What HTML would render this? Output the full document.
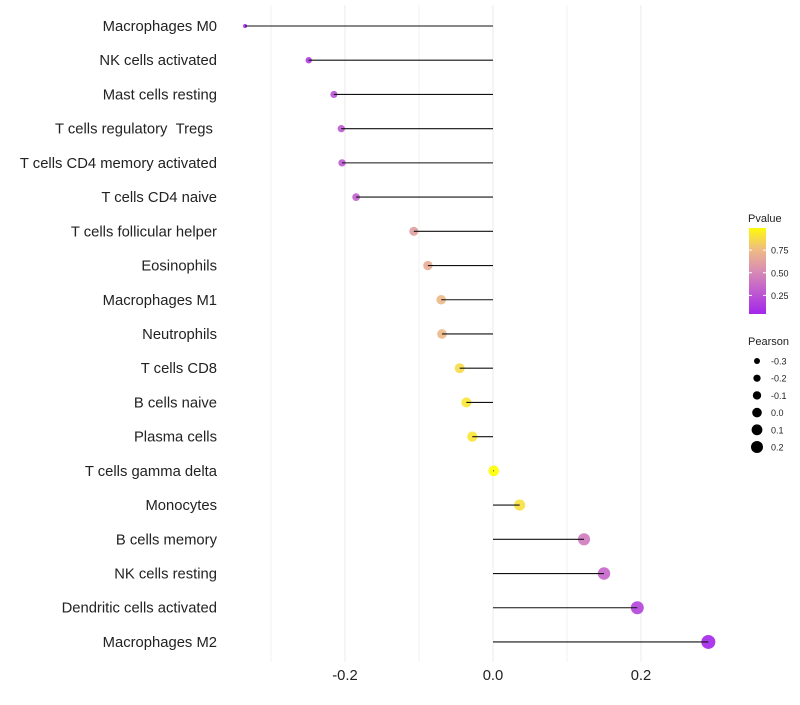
<!DOCTYPE html>
<html><head><meta charset="utf-8"><style>
body{margin:0;background:#fff;font-family:"Liberation Sans",sans-serif;}
</style></head><body>
<svg id="chart" width="800" height="700" xmlns="http://www.w3.org/2000/svg" font-family="Liberation Sans, sans-serif">
<g id="grid"></g><g id="marks"></g><g id="labels"></g><g id="legend"></g>
</svg>
<script>
const categories=["Macrophages M0","NK cells activated","Mast cells resting","T cells regulatory\u00a0\u00a0Tregs\u00a0","T cells CD4 memory activated","T cells CD4 naive","T cells follicular helper","Eosinophils","Macrophages M1","Neutrophils","T cells CD8","B cells naive","Plasma cells","T cells gamma delta","Monocytes","B cells memory","NK cells resting","Dendritic cells activated","Macrophages M2"];
const pearson=[-0.335,-0.249,-0.215,-0.205,-0.204,-0.185,-0.107,-0.088,-0.070,-0.069,-0.045,-0.036,-0.028,0.001,0.036,0.123,0.150,0.195,0.291];
const pvalue=[0.02,0.12,0.22,0.26,0.26,0.3,0.6,0.66,0.72,0.72,0.86,0.9,0.9,1.0,0.88,0.42,0.32,0.16,0.03];
const xTicks=[-0.2,0.0,0.2];
const xMinor=[-0.3,-0.1,0.1];
const sizeLegend=[-0.3,-0.2,-0.1,0.0,0.1,0.2];
const pTicks=[0.25,0.5,0.75];

const NS="http://www.w3.org/2000/svg";
function mk(t,a,p){const e=document.createElementNS(NS,t);for(const k in a)e.setAttribute(k,a[k]);p.appendChild(e);return e;}
const x=v=>493+v*740;
const y=i=>26+i*34.22;
const rMin=-0.335,rMax=0.291;
const rad=v=>Math.sqrt(4+(v-rMin)/(rMax-rMin)*(49-4));
function col(p){
  const stops=[[0,[160,32,240]],[0.5,[217,139,180]],[0.75,[240,190,130]],[1,[255,255,0]]];
  for(let i=1;i<stops.length;i++){if(p<=stops[i][0]){const a=stops[i-1],b=stops[i];const t=(p-a[0])/(b[0]-a[0]);return "rgb("+a[1].map((c,j)=>Math.round(c+(b[1][j]-c)*t)).join(",")+")";}}
  return "rgb(255,255,0)";
}
const grid=document.getElementById('grid'),marks=document.getElementById('marks'),labels=document.getElementById('labels'),legend=document.getElementById('legend');
xMinor.forEach(v=>{const l=mk('line',{x1:x(v),x2:x(v),y1:5,y2:662,stroke:'#f2f2f2','stroke-width':1},grid);

});
xTicks.forEach(v=>{const l=mk('line',{x1:x(v),x2:x(v),y1:5,y2:662,stroke:'#ebebeb','stroke-width':1},grid);


const t=mk('text',{x:x(v),y:680,'text-anchor':'middle','font-size':14.8,fill:'#222'},labels);t.textContent=v.toFixed(1);

});
categories.forEach((c,i)=>{
  const t=mk('text',{x:217,y:y(i)+5,'text-anchor':'end','font-size':14.8,fill:'#222'},labels);t.textContent=c;
  
  
  const d=mk('circle',{cx:x(pearson[i]),cy:y(i),r:rad(pearson[i]),fill:col(pvalue[i]),'fill-opacity':0.9},marks);
  
  
  const s=mk('line',{x1:x(0),x2:x(pearson[i]),y1:y(i),y2:y(i),stroke:'#111','stroke-width':1.1},marks);
  
  
});
let t=mk('text',{x:748,y:222,'font-size':11,fill:'#222'},legend);t.textContent="Pvalue";


const defs=mk('defs',{},legend);const g=mk('linearGradient',{id:'pg',x1:0,y1:1,x2:0,y2:0},defs);
[0,0.25,0.5,0.75,1].forEach(p=>mk('stop',{offset:p,'stop-color':col(0.03+p*0.95)},g));
const bar=mk('rect',{x:749,y:228,width:17,height:86,fill:'url(#pg)'},legend);


const py=p=>318-p*90.5;
pTicks.forEach(p=>{mk('line',{x1:749,x2:752,y1:py(p),y2:py(p),stroke:'#fff'},legend);mk('line',{x1:763,x2:766,y1:py(p),y2:py(p),stroke:'#fff'},legend);
const tt=mk('text',{x:771,y:py(p)+3.5,'font-size':9,fill:'#222'},legend);tt.textContent=p.toFixed(2);

});
t=mk('text',{x:748,y:345,'font-size':11,fill:'#222'},legend);t.textContent="Pearson";


sizeLegend.forEach((v,i)=>{const cy=361+i*17.2;
const c=mk('circle',{cx:757,cy:cy,r:3+(v+0.3)*6,fill:'#000'},legend);


const tt=mk('text',{x:771,y:cy+3.5,'font-size':9,fill:'#222'},legend);tt.textContent=v.toFixed(1);

});
</script>
</body></html>
